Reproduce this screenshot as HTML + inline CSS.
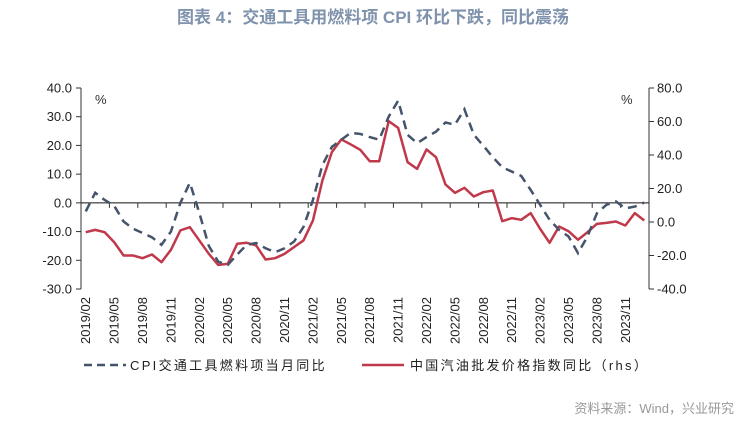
<!DOCTYPE html>
<html><head><meta charset="utf-8">
<style>
body{margin:0;background:#fff;width:746px;height:425px;overflow:hidden;font-family:"Liberation Sans","Noto Sans CJK SC",sans-serif;}
</style></head>
<body>
<svg id="chart" width="746" height="425" xmlns="http://www.w3.org/2000/svg" font-family="Liberation Sans, Noto Sans CJK SC, sans-serif">
<text x="373" y="23" text-anchor="middle" font-size="17" font-weight="bold" fill="#8093ad">图表 4：交通工具用燃料项 CPI 环比下跌，同比震荡</text>
<g id="axes"></g>
<g id="marks"></g>
<text x="95" y="104" font-size="13" fill="#333">%</text>
<text x="621" y="104" font-size="13" fill="#333">%</text>
<g>
<line x1="84" y1="365" x2="126" y2="365" stroke="#44546a" stroke-width="2.5" stroke-dasharray="8,5"/>
<text x="130" y="370" font-size="13" fill="#222" letter-spacing="2.3">CPI交通工具燃料项当月同比</text>
<line x1="362" y1="365" x2="404" y2="365" stroke="#c0394b" stroke-width="2.5"/>
<text x="410" y="370" font-size="13" fill="#222" letter-spacing="2.3">中国汽油批发价格指数同比（rhs）</text>
</g>
<text x="734" y="413" text-anchor="end" font-size="13" fill="#999">资料来源：Wind，兴业研究</text>
</svg>
<script>
const categories=[];
for(let y=2019,m=2;categories.length<60;){categories.push(y+'/'+String(m).padStart(2,'0'));m++;if(m>12){m=1;y++;}}
const cpiValues=[-3,3.5,1,-1,-6.5,-9,-10.5,-12,-14.6,-10,0,7,-3.5,-15,-20.5,-21.6,-18,-14.6,-14,-15.8,-17.2,-15.8,-13.5,-8.4,1,13.2,19.5,22,24.4,24,22.9,22,30,35.6,23.7,20.8,22.9,24.8,28,27.2,32.6,23.7,19.9,15.9,12.4,10.9,9.4,4.5,-0.7,-5.9,-9.4,-11.7,-17.5,-11.7,-3.6,-0.7,0.5,-1.9,-1.3,0.1];
const oilValues=[-6.1,-4.7,-6.1,-12,-20,-20,-21.6,-19.4,-24,-16.6,-5,-3.1,-11,-19,-25.6,-25,-13,-12.4,-14,-22.4,-21.6,-19,-15,-11,0.9,24.8,41.7,49.3,46.3,43.1,36.3,36.3,60.2,56.2,35.7,31.7,43.3,38.7,22.4,17.4,20.4,15.2,17.8,18.8,0.5,2.3,1.3,5.3,-4.1,-12.4,-2.7,-5.5,-10.6,-6.1,-1.1,-0.5,0.3,-2.1,5.3,0.9];
const leftTicks=[40,30,20,10,0,-10,-20,-30];
const rightTicks=[80,60,40,20,0,-20,-40];
const NS='http://www.w3.org/2000/svg';
const X0=81,X1=649,Y0=88,Y1=289;
const band=(X1-X0)/categories.length;
const xs=i=>X0+band*(i+0.5);
const yL=v=>Y0+(40-v)/70*(Y1-Y0);
const yR=v=>Y0+(80-v)/120*(Y1-Y0);
function mk(tag,attrs,parent){const e=document.createElementNS(NS,tag);for(const k in attrs)e.setAttribute(k,attrs[k]);parent.appendChild(e);return e;}
const ax=document.getElementById('axes'),mg=document.getElementById('marks');
let e=mk('line',{x1:X0,y1:Y0,x2:X0,y2:Y1,stroke:'#333','stroke-width':1},ax);


e=mk('line',{x1:X1,y1:Y0,x2:X1,y2:Y1,stroke:'#333','stroke-width':1},ax);


leftTicks.forEach(v=>{
  mk('line',{x1:X0-5,y1:yL(v),x2:X0,y2:yL(v),stroke:'#333'},ax);
  const t=mk('text',{x:X0-9,y:yL(v)+4.5,'text-anchor':'end','font-size':13,fill:'#222'},ax);
  t.textContent=v.toFixed(1);
  
  
});
rightTicks.forEach(v=>{
  mk('line',{x1:X1,y1:yR(v),x2:X1+5,y2:yR(v),stroke:'#333'},ax);
  const t=mk('text',{x:X1+8,y:yR(v)+4.5,'font-size':13,fill:'#222'},ax);
  t.textContent=v.toFixed(1);
  
  
});
e=mk('line',{x1:X0,y1:yL(0),x2:X1,y2:yL(0),stroke:'#111','stroke-width':1},ax);


categories.forEach((c,i)=>{
  if(i%3===0){
    const tx=X0+band*i;
    if(i>0)mk('line',{x1:tx,y1:yL(0),x2:tx,y2:yL(0)+5,stroke:'#333'},ax);
    const x=xs(i),y=297;
    const t=mk('text',{x:x,y:y,transform:`rotate(-90 ${x} ${y})`,'text-anchor':'end','font-size':13,fill:'#222',dy:'4.5'},ax);
    t.textContent=c;
    
    
  }
});
const p1=mk('polyline',{points:oilValues.map((v,i)=>xs(i)+','+yR(v)).join(' '),fill:'none',stroke:'#c0394b','stroke-width':2.5,'stroke-linejoin':'round'},mg);


const p2=mk('polyline',{points:cpiValues.map((v,i)=>xs(i)+','+yL(v)).join(' '),fill:'none',stroke:'#44546a','stroke-width':2.5,'stroke-dasharray':'9,6'},mg);


</script>
</body></html>
